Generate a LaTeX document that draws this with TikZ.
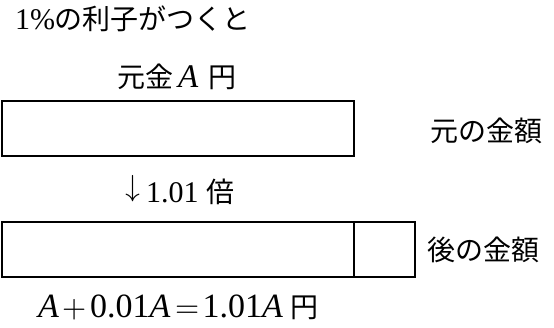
\documentclass[tikz,border=0pt]{standalone}
\usepackage{fontspec}
\setmainfont{Liberation Serif}
\newfontfamily\jp{Noto Sans CJK JP}
\newfontfamily\symf{Latin Modern Math}
\newcommand{\latsize}[1]{\fontsize{#1}{#1}\selectfont}
\tikzset{
  lbl/.style={inner sep=0pt, outer sep=0pt, font=\fontsize{28}{32}\selectfont},
  bar/.style={draw=black, line width=2pt, fill=white, inner sep=0pt}
}
\begin{document}
\begin{tikzpicture}[x=1pt,y=-1pt]
\useasboundingbox (0,0) rectangle (554,327);
% texts
\node[lbl, anchor=base west] (intro) at (15,29) {{\latsize{30}1\%}{\jp の利子がつくと}};
\node[lbl, anchor=base west] (gankin) at (117,87) {{\jp 元金}\hspace{5pt}{\latsize{33}\textit{A}}\hspace{10pt}{\jp 円}};
% boxes
\node[bar, minimum width=352.5pt, minimum height=55pt] (b1) at (177.75,128.5) {};
\node[bar, minimum width=352.5pt, minimum height=55pt] (b2a) at (177.75,249.5) {};
\node[bar, minimum width=61pt, minimum height=55pt] (b2b) at (384.5,249.5) {};
% labels
\node[lbl] (moto) at (486.5,131) {\jp 元の金額};
\node[lbl] (ato) at (483.5,250) {\jp 後の金額};
\node[lbl, anchor=base west] (times) at (125,202) {{\latsize{30}\raisebox{5.5pt}{\symf ↓}\hspace{6pt}1.01}\hspace{8pt}{\jp 倍}};
\node[lbl, anchor=base west] (formula) at (38,317) {{\latsize{34}\textit{A}\hspace{4pt}{\latsize{31}\symf +}\hspace{3pt}0.01\textit{A}\hspace{5pt}{\latsize{31}\symf =}\hspace{3pt}1.01\textit{A}}\hspace{8pt}{\jp 円}};
\end{tikzpicture}
\end{document}
